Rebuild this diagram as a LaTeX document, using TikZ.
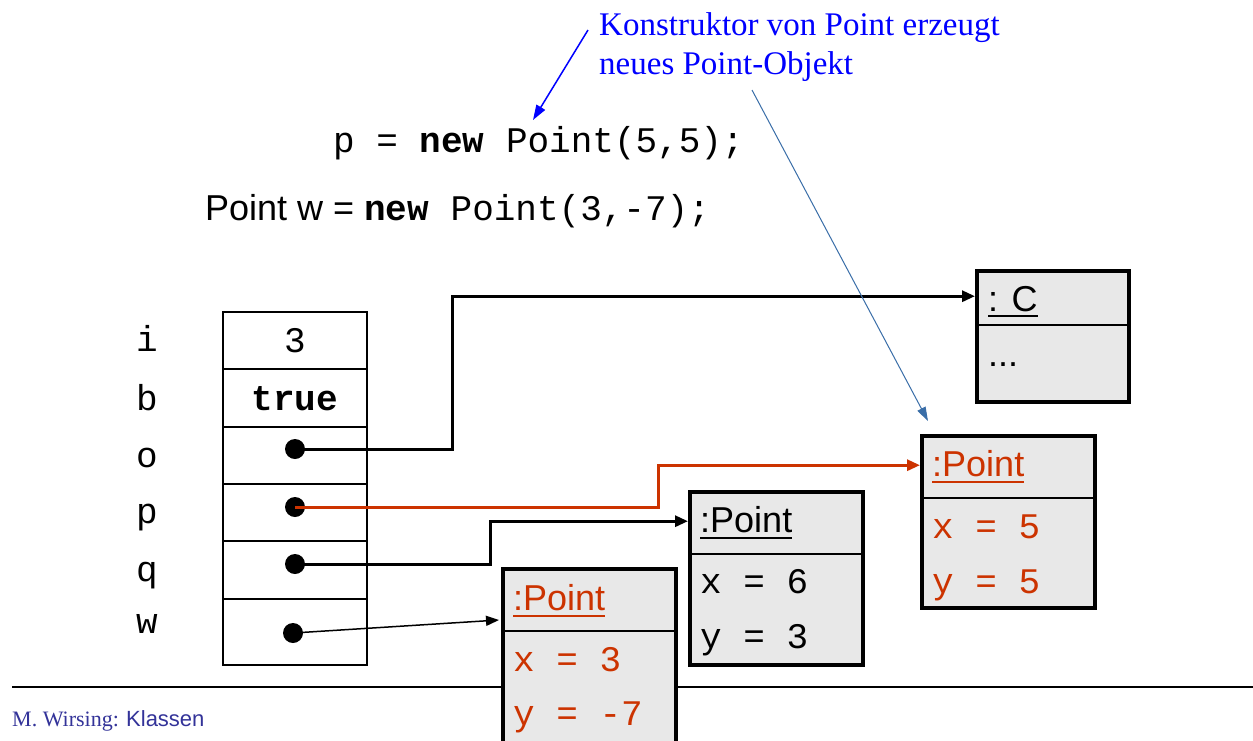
\documentclass[tikz,border=0pt]{standalone}
\usepackage{fontspec}
\setmainfont{Liberation Serif}
\newfontfamily\sansf{Liberation Sans}
\newfontfamily\monof{Liberation Mono}
\usetikzlibrary{arrows.meta,calc}
\definecolor{objred}{HTML}{CC3300}
\definecolor{objgray}{HTML}{E8E8E8}
\definecolor{annblue}{HTML}{0000FF}
\definecolor{steel}{HTML}{3A6EA8}
\definecolor{footblue}{HTML}{333399}
\begin{document}
\begin{tikzpicture}[x=1pt,y=-1pt,
  cell/.style={draw, line width=1.5, minimum width=144, inner sep=0, anchor=north west},
  varlbl/.style={inner sep=0, anchor=base, font=\fontsize{36}{40}\monof},
  dotnode/.style={circle, fill=black, minimum size=20, inner sep=0},
  objbox/.style={draw, line width=4, fill=objgray, inner sep=0, anchor=north west},
  headbox/.style={inner sep=0, anchor=north west},
  divider/.style={line width=2},
  objtitle/.style={inner sep=0, anchor=base west, font=\fontsize{36}{40}\sansf},
  attr/.style={inner sep=0, anchor=base west, font=\fontsize{36}{40}\monof},
  conn/.style={line width=3, -{Triangle[length=13pt,width=11pt]}},
  thinconn/.style={line width=1.5, -{Triangle[length=13pt,width=10pt]}},
  annarrow/.style={annblue, line width=1.5, -{Triangle[length=15pt,width=10pt]}},
  steelarrow/.style={steel, line width=1, -{Triangle[length=14pt,width=9pt]}},
  uline/.style={line width=2.5}
]
\useasboundingbox (0,0) rectangle (1253,740);
\clip (0,0) rectangle (1253,740);
\fill[white] (0,0) rectangle (1253,740);

% footer line
\draw[line width=1.5] (12,687) -- (1253,687);
\node[inner sep=0, anchor=base west, text=footblue, font=\fontsize{22}{24}\selectfont] (footer) at (12,726) {M. Wirsing: {\sansf Klassen}};

% annotation
\node[inner sep=0, anchor=base west, text=annblue, font=\fontsize{33}{40}\selectfont] (ann1) at (599,35) {Konstruktor von Point erzeugt};
\node[inner sep=0, anchor=base west, text=annblue, font=\fontsize{33}{40}\selectfont] (ann2) at (599,74) {neues Point-Objekt};

% code lines
\node[inner sep=0, anchor=base west, font=\fontsize{36}{40}\monof] (code1) at (333,152) {p = {\bfseries new} Point(5,5);};
\node[inner sep=0, anchor=base west, font=\fontsize{36}{40}\monof] (code2) at (205,220) {{\sansf Point w = }{\bfseries new} Point(3,-7);};

% stack
\node[cell, minimum height=57] (ci) at (222,311) {};
\node[cell, minimum height=58] (cb) at (222,368) {};
\node[cell, minimum height=57] (co) at (222,426) {};
\node[cell, minimum height=57] (cp) at (222,483) {};
\node[cell, minimum height=58] (cq) at (222,540) {};
\node[cell, minimum height=66] (cw) at (222,598) {};

\node[varlbl] (li) at (147,351) {i};
\node[varlbl] (lb) at (147,410) {b};
\node[varlbl] (lo) at (147,467) {o};
\node[varlbl] (lp) at (147,523) {p};
\node[varlbl] (lq) at (147,581) {q};
\node[varlbl] (lw) at (147,633) {w};

\node[varlbl] (vi) at (295,352) {3};
\node[varlbl, font=\fontsize{36}{40}\monof\bfseries] (vb) at (295,410) {true};

\node[dotnode] (odot) at (295,449) {};
\node[dotnode] (pdot) at (295,507) {};
\node[dotnode] (qdot) at (295,564) {};
\node[dotnode] (wdot) at (293,633) {};

% object C
\node[objbox, minimum width=152, minimum height=131] (C) at (975,269) {};
\node[headbox, minimum width=152, minimum height=54] (Ch) at (975,269) {};
\draw[divider] (975,325) -- (1127,325);
\node[objtitle] (Ct) at (988,311) {: C};
\draw[uline] ($(Ct.base west)+(0,5)$) -- ($(Ct.base east)+(0,5)$);
\node[objtitle] (Cd) at (988,366) {...};

% right Point (5,5)
\node[objbox, minimum width=173, minimum height=172] (P1) at (920,434) {};
\node[headbox, minimum width=173, minimum height=62] (P1h) at (920,434) {};
\draw[divider] (920,498) -- (1093,498);
\node[objtitle, text=objred] (P1t) at (932,476) {:Point};
\draw[uline, objred] ($(P1t.base west)+(0,6)$) -- ($(P1t.base east)+(0,6)$);
\node[attr, text=objred] (P1x) at (932,538) {x = 5};
\node[attr, text=objred] (P1y) at (932,593) {y = 5};

% middle Point (6,3)
\node[objbox, minimum width=173, minimum height=173] (P2) at (688,490) {};
\node[headbox, minimum width=173, minimum height=62] (P2h) at (688,490) {};
\draw[divider] (688,554) -- (861,554);
\node[objtitle] (P2t) at (700,532) {:Point};
\draw[uline] ($(P2t.base west)+(0,6)$) -- ($(P2t.base east)+(0,6)$);
\node[attr] (P2x) at (700,593) {x = 6};
\node[attr] (P2y) at (700,648) {y = 3};

% left Point (3,-7)
\node[objbox, minimum width=173, minimum height=200] (P3) at (501,567) {};
\node[headbox, minimum width=173, minimum height=62] (P3h) at (501,567) {};
\draw[divider] (501,631) -- (674,631);
\node[objtitle, text=objred] (P3t) at (513,610) {:Point};
\draw[uline, objred] ($(P3t.base west)+(0,6)$) -- ($(P3t.base east)+(0,6)$);
\node[attr, text=objred] (P3x) at (513,671) {x = 3};
\node[attr, text=objred] (P3y) at (513,725) {y = -7};

% connectors
\draw[conn] (odot.center) -- ++(157,0) |- (Ch.west);
\draw[conn, objred] (pdot.center) -- ++(363,0) |- (P1h.west);
\draw[conn] (qdot.center) -- ++(195,0) |- (P2h.west);
\coordinate (wend) at (499,620);
\draw[thinconn] (wdot.center) -- (wend);

% annotation arrows
\coordinate (a1s) at (588,30);
\coordinate (a1e) at (533,120);
\draw[annarrow] (a1s) -- (a1e);
\coordinate (a2s) at (752,90);
\coordinate (a2e) at (928,421);
\draw[steelarrow] (a2s) -- (a2e);
\end{tikzpicture}
\end{document}
